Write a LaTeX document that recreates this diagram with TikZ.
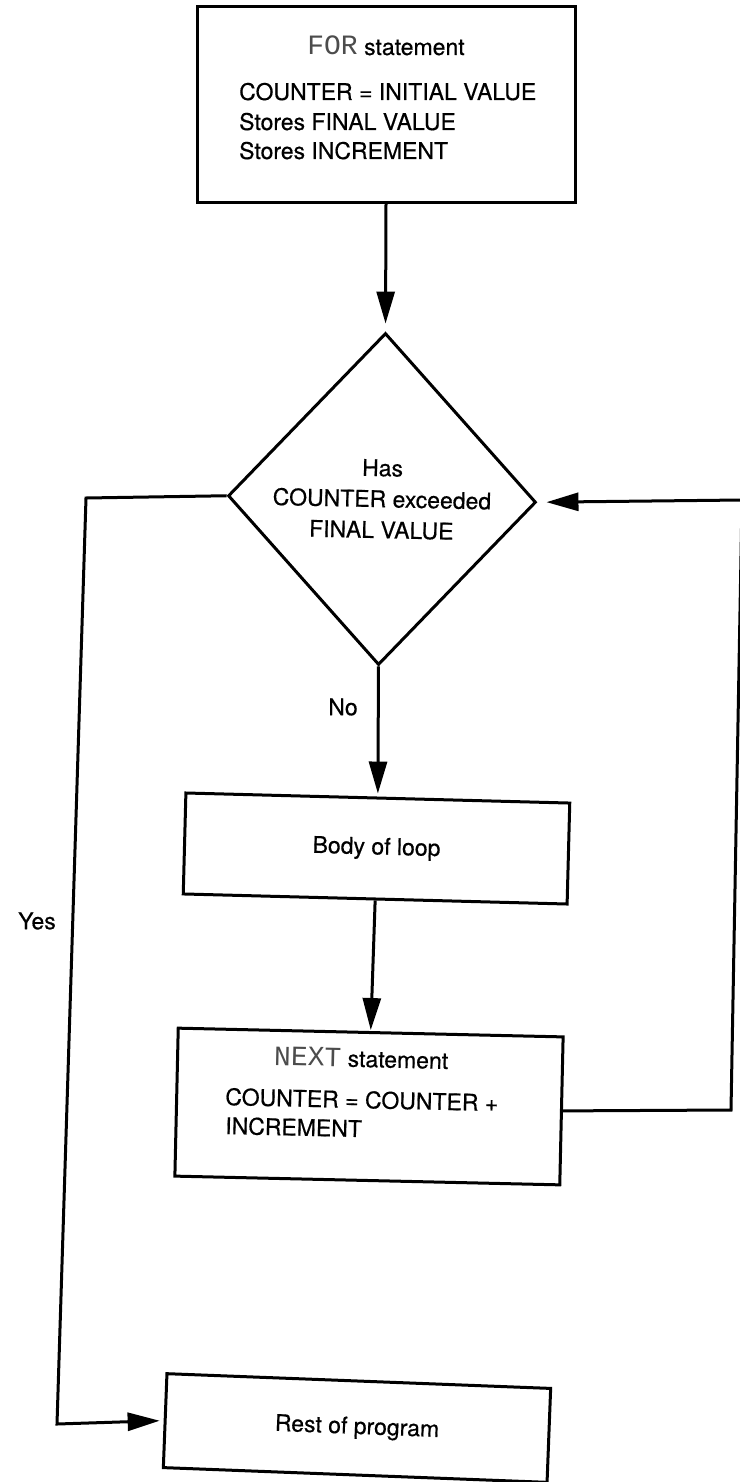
\documentclass[tikz,border=0pt]{standalone}
\usepackage{fontspec}
\setmainfont{TeX Gyre Heros}[FakeBold=0.5]
\newfontfamily\lcdfont{Liberation Mono}
\usetikzlibrary{shapes.geometric,arrows.meta}
\newcommand{\kw}[1]{{\lcdfont\fontsize{28}{28}\selectfont\color{black!70}#1}}
\begin{document}
\begin{tikzpicture}[x=1pt,y=-1pt,
  flow/.style={line width=3pt},
  arr/.style={flow,-{Triangle[length=32pt,width=18pt]}},
  procbox/.style={draw,line width=3pt,inner sep=0pt,
    font={\fontsize{23}{29.5}\selectfont}},
  decision/.style={draw,diamond,line width=3pt,inner sep=0pt,
    minimum width=308pt,minimum height=332pt,align=center,
    font={\fontsize{23}{31}\selectfont}},
  txt/.style={inner sep=0pt,font={\fontsize{23}{29.5}\selectfont}},
]
\useasboundingbox (0,0) rectangle (739,1482);

% FOR statement box
\node (for) [procbox, minimum width=378pt, minimum height=195pt] at (386,104.5) {};
\node (fortitle) [txt, anchor=base] at (386,55) {\kw{FOR} statement};
\node (forl1) [txt, anchor=base west] at (239,100) {COUNTER = INITIAL VALUE};
\node (forl2) [txt, anchor=base west] at (239,130) {Stores FINAL VALUE};
\node (forl3) [txt, anchor=base west] at (239,159) {Stores INCREMENT};

% loop test
\node (dec) [decision, rotate=-1.2] at (382,499) {Has\\COUNTER exceeded\\FINAL VALUE};

% body of the loop
\node (body) [procbox, rotate=-1.5, minimum width=384pt, minimum height=101pt]
  at (376.5,848.5) {Body of loop};

% NEXT statement box
\node (next) [procbox, rotate=-1.3, minimum width=385pt, minimum height=148pt]
  at (369,1106.5) {};
\node (nexttitle) [txt, anchor=base, rotate=-1.3] at (361,1067) {\kw{NEXT} statement};
\node (nextl1) [txt, anchor=base west, rotate=-1.3] at (225,1105) {COUNTER = COUNTER +};
\node (nextl2) [txt, anchor=base west, rotate=-1.3] at (225,1134) {INCREMENT};

% exit of the loop
\node (rest) [procbox, rotate=-2.2, minimum width=384pt, minimum height=94pt]
  at (357,1428) {Rest of program};

% labels
\node (nolabel) [txt] at (343,707) {No};
\node (yeslabel) [txt] at (37,921) {Yes};

% route points of the return and exit lines
\coordinate (fbB) at (731,1110);
\coordinate (fbT) at (742,500);
\coordinate (yesT) at (86,498);
\coordinate (yesB) at (57,1424);

% connectors
\draw[arr, shorten >=8pt] (for.south) -- (dec.north);
\draw[arr, shorten >=3pt] (dec.south) -- (body.north);
\draw[arr, shorten >=1pt] (body.south) -- (next.north);
\draw[arr, shorten >=9pt] (next.east) -- (fbB) -- (fbT) -- (dec.east);
\draw[arr, shorten >=4pt] (dec.west) -- (yesT) -- (yesB) -- (rest.west);
\end{tikzpicture}
\end{document}
